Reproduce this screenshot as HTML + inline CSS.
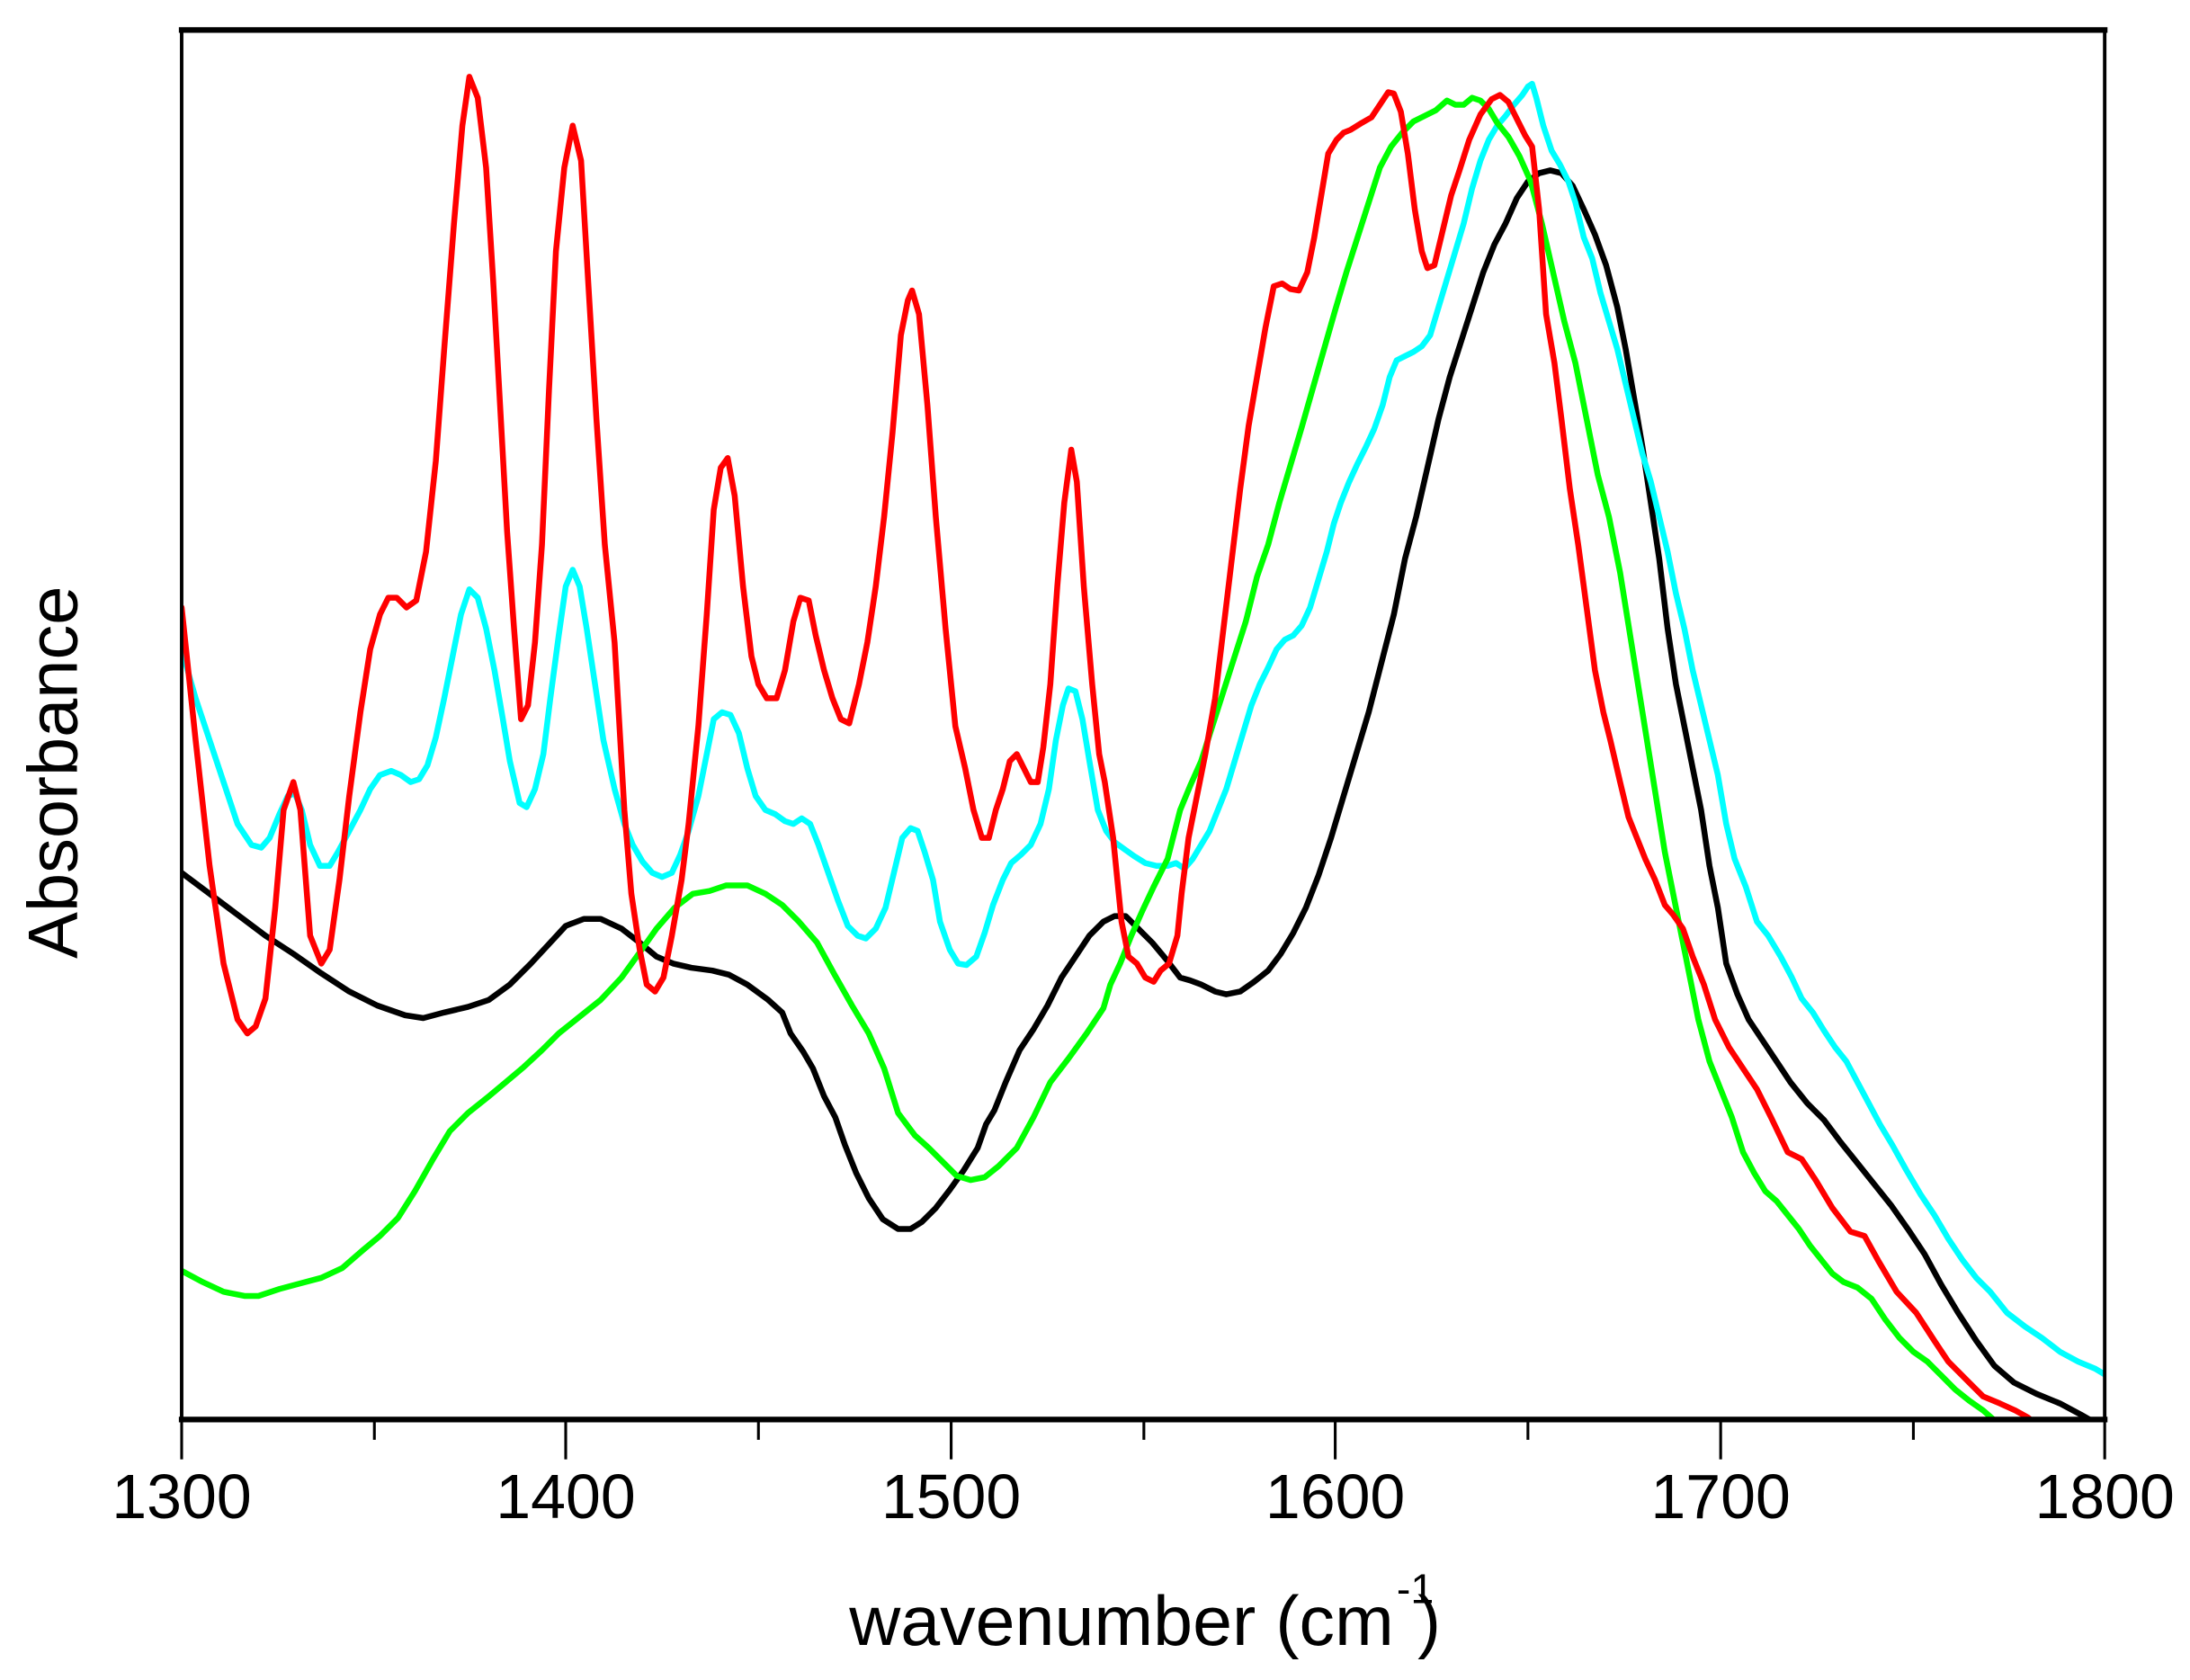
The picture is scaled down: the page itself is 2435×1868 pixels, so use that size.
<!DOCTYPE html>
<html><head><meta charset="utf-8"><style>html,body{margin:0;padding:0;background:#fff}svg{display:block}</style></head>
<body>
<svg width="2435" height="1868" viewBox="0 0 1568 1203" xmlns="http://www.w3.org/2000/svg" font-family="Liberation Sans, Arial, sans-serif">
<defs><clipPath id="c"><rect x="130" y="21" width="1377" height="996"/></clipPath></defs>
<g clip-path="url(#c)" fill="none" stroke-width="4.2" stroke-linejoin="round" stroke-linecap="round">
<polyline stroke="#000" points="130,625 150,640 170,655 190,670 210,683 230,697 250,710 270,720 290,727 303,729 318,725 335,721 350,716 365,705 380,690 393,676 405,663 418,658 430,658 445,665 458,675 470,685 482,690 495,693 510,695 522,698 535,705 550,716 560,725 566,740 575,753 582,765 590,785 598,800 605,820 613,840 622,858 632,873 643,880 652,880 660,875 670,865 680,852 690,838 700,822 706,805 712,795 720,775 730,752 740,737 750,720 760,700 770,685 780,670 790,660 798,656 806,656 815,665 825,675 835,687 845,700 852,702 860,705 870,710 878,712 888,710 898,703 908,695 917,683 926,668 935,650 944,627 953,600 962,570 971,540 980,510 989,475 998,440 1006,400 1014,370 1022,335 1030,300 1038,270 1046,245 1054,220 1062,195 1070,175 1078,160 1086,142 1094,130 1102,124 1110,122 1118,124 1126,133 1134,150 1142,168 1150,190 1158,220 1164,250 1170,285 1176,320 1182,360 1188,400 1194,450 1200,490 1206,520 1212,550 1218,580 1224,620 1230,650 1236,690 1244,712 1252,730 1262,745 1272,760 1282,775 1294,790 1306,802 1318,818 1330,833 1342,848 1354,863 1366,880 1378,898 1390,920 1402,940 1415,960 1428,978 1442,990 1458,998 1475,1005 1490,1013 1497,1017"/>
<polyline stroke="#00ffff" points="130,465 140,500 150,530 160,560 170,590 180,605 187,607 193,600 200,583 206,570 211,568 216,580 222,605 229,620 236,620 242,610 250,595 258,580 265,565 272,555 280,552 287,555 294,560 300,558 306,548 312,528 318,500 324,470 330,440 336,422 342,428 348,450 354,480 360,515 365,545 372,575 377,578 383,565 389,540 394,500 400,455 405,420 410,408 415,420 420,450 426,490 432,530 440,565 447,590 453,605 460,617 467,625 474,628 481,625 487,612 493,595 500,570 506,540 511,515 517,510 523,512 529,525 535,550 541,570 548,580 555,583 562,588 568,590 574,586 580,590 586,605 593,625 600,645 607,663 614,670 620,672 627,665 634,650 640,625 646,600 652,593 657,595 662,610 668,630 673,660 680,680 686,690 692,691 699,685 705,668 711,648 718,630 724,618 731,612 738,605 745,590 751,565 756,530 761,505 765,493 770,495 775,515 780,545 786,580 792,595 798,603 805,608 812,613 820,618 828,620 836,620 842,618 848,622 854,615 860,605 866,595 872,580 878,565 884,545 890,525 896,505 902,490 908,478 914,465 920,458 926,455 932,448 938,435 944,415 950,395 955,375 960,360 966,345 972,332 978,320 984,307 990,290 995,270 1000,258 1006,255 1012,252 1018,248 1024,240 1030,220 1036,200 1042,180 1048,160 1054,135 1060,115 1066,100 1072,90 1078,83 1084,75 1090,68 1094,62 1097,60 1100,70 1105,90 1111,108 1117,118 1123,130 1128,145 1134,170 1140,185 1146,210 1152,230 1158,250 1164,275 1170,300 1176,325 1182,345 1188,370 1194,395 1200,425 1206,450 1212,480 1218,505 1224,530 1230,555 1236,590 1242,615 1250,635 1258,660 1266,670 1275,685 1283,700 1290,715 1298,725 1306,738 1314,750 1322,760 1330,775 1338,790 1346,805 1355,820 1365,838 1375,855 1385,870 1395,887 1405,902 1415,915 1425,925 1437,940 1450,950 1462,958 1475,968 1488,975 1500,980 1510,986"/>
<polyline stroke="#00ff00" points="130,910 145,918 160,925 175,928 185,928 200,923 215,919 230,915 245,908 260,895 272,885 285,872 297,853 310,830 322,810 335,797 350,785 362,775 375,764 388,752 400,740 415,728 430,716 445,700 458,682 470,665 483,650 496,640 508,638 520,634 535,634 548,640 560,648 572,660 585,675 597,697 610,720 622,740 633,765 643,797 655,813 665,822 675,832 685,842 695,845 705,843 715,835 728,822 740,800 752,775 765,758 778,740 790,722 795,705 802,690 810,670 818,652 826,635 836,615 845,580 852,563 860,545 868,520 876,495 884,470 892,445 900,413 908,390 916,360 924,333 932,306 940,278 948,250 956,222 964,195 972,170 980,145 988,120 996,105 1004,95 1012,87 1020,83 1028,79 1036,72 1042,75 1048,75 1054,70 1060,72 1066,78 1072,88 1080,98 1088,112 1096,130 1104,160 1112,195 1120,230 1128,260 1136,300 1144,340 1152,370 1160,410 1168,460 1176,510 1184,560 1192,610 1200,650 1208,690 1216,730 1224,760 1232,780 1240,800 1248,825 1256,840 1264,853 1272,860 1280,870 1288,880 1296,892 1304,902 1312,912 1320,918 1330,922 1340,930 1350,945 1360,958 1370,968 1380,975 1390,985 1400,995 1410,1003 1420,1010 1428,1017"/>
<polyline stroke="#ff0000" points="130,435 140,530 150,620 160,690 170,730 177,740 183,735 190,715 197,650 203,580 210,560 215,580 222,670 230,690 236,680 243,630 250,570 258,510 265,465 272,440 278,428 284,428 291,435 298,430 305,395 312,330 318,250 325,160 331,90 336,55 342,70 348,120 353,200 358,290 363,380 368,450 373,515 378,505 383,460 388,390 393,280 398,180 404,120 410,90 416,115 421,200 427,300 433,390 440,460 447,580 452,640 458,680 463,705 469,710 475,700 481,670 488,630 493,590 500,520 506,440 511,365 516,335 521,328 526,355 532,420 538,470 543,490 549,500 556,500 562,480 568,445 573,428 579,430 584,455 590,480 596,500 602,515 608,518 615,490 621,460 627,420 633,370 639,310 645,240 650,215 653,208 658,225 664,290 670,370 677,450 684,520 691,550 697,580 703,600 708,600 713,580 718,565 723,545 728,540 733,550 738,560 743,560 747,535 752,490 757,420 762,360 767,322 771,345 776,420 782,490 787,540 791,560 797,600 803,660 808,685 814,690 820,700 826,703 831,695 837,690 843,670 846,640 851,600 857,570 863,540 870,500 876,450 882,400 888,350 894,305 900,270 906,235 912,205 918,203 924,207 930,208 936,195 941,170 946,140 951,110 957,100 962,95 967,93 975,88 982,84 988,75 994,66 998,67 1003,80 1008,110 1013,150 1018,180 1022,192 1027,190 1033,165 1039,140 1045,122 1052,100 1060,82 1068,71 1074,68 1080,73 1086,85 1092,97 1097,105 1102,150 1107,225 1113,260 1118,300 1124,350 1130,390 1136,435 1142,480 1148,510 1153,530 1160,560 1166,585 1172,600 1178,615 1185,630 1192,648 1198,655 1205,665 1212,685 1220,705 1228,730 1238,750 1248,765 1258,780 1268,800 1280,825 1290,830 1300,845 1312,865 1325,882 1335,885 1345,903 1358,925 1372,940 1385,960 1395,975 1410,990 1420,1000 1432,1005 1443,1010 1452,1015 1458,1020"/>
</g>
<g stroke="#000" fill="none">
<line x1="128" y1="21.5" x2="1509" y2="21.5" stroke-width="4"/>
<line x1="128" y1="1016.5" x2="1509" y2="1016.5" stroke-width="4"/>
<line x1="130" y1="20" x2="130" y2="1018" stroke-width="2.5"/>
<line x1="1507" y1="20" x2="1507" y2="1018" stroke-width="2.5"/>
<g stroke-width="2">
<line x1="130" y1="1018" x2="130" y2="1045"/><line x1="405" y1="1018" x2="405" y2="1045"/><line x1="681" y1="1018" x2="681" y2="1045"/><line x1="956" y1="1018" x2="956" y2="1045"/><line x1="1232" y1="1018" x2="1232" y2="1045"/><line x1="1507" y1="1018" x2="1507" y2="1045"/>
<line x1="268" y1="1018" x2="268" y2="1031"/><line x1="543" y1="1018" x2="543" y2="1031"/><line x1="819" y1="1018" x2="819" y2="1031"/><line x1="1094" y1="1018" x2="1094" y2="1031"/><line x1="1370" y1="1018" x2="1370" y2="1031"/>
</g></g>
<g font-size="45" text-anchor="middle" fill="#000">
<text x="130" y="1087">1300</text><text x="405" y="1087">1400</text><text x="681" y="1087">1500</text><text x="956" y="1087">1600</text><text x="1232" y="1087">1700</text><text x="1507" y="1087">1800</text>
</g>
<text x="608" y="1178" font-size="50" textLength="390" lengthAdjust="spacingAndGlyphs">wavenumber (cm</text>
<text x="1000" y="1148" font-size="30">-1</text>
<text x="1015" y="1178" font-size="50">)</text>
<text transform="translate(55,553) rotate(-90)" font-size="50" text-anchor="middle">Absorbance</text>
</svg>
</body></html>
